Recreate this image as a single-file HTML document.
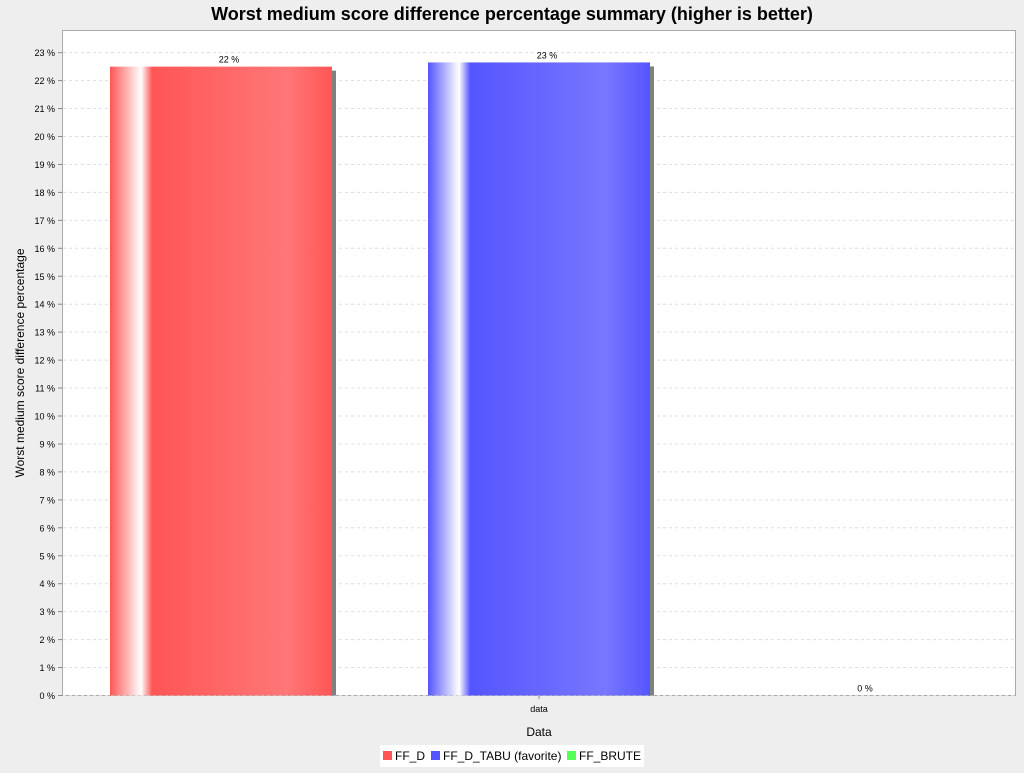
<!DOCTYPE html>
<html><head><meta charset="utf-8"><style>
body{margin:0;background:#eeeeee;font-family:"Liberation Sans",sans-serif}
</style></head><body>
<svg id="chart" width="1024" height="768" xmlns="http://www.w3.org/2000/svg" font-family="Liberation Sans, sans-serif">
<defs>
<linearGradient id="gr" x1="0" x2="1" y1="0" y2="0">
<stop offset="0" stop-color="#ff5555"/><stop offset="0.14" stop-color="#ffffff"/><stop offset="0.19" stop-color="#ff5555"/><stop offset="0.8" stop-color="#ff7777"/><stop offset="1" stop-color="#ff5555"/>
</linearGradient>
<linearGradient id="gb" x1="0" x2="1" y1="0" y2="0">
<stop offset="0" stop-color="#5555ff"/><stop offset="0.14" stop-color="#ffffff"/><stop offset="0.19" stop-color="#5555ff"/><stop offset="0.8" stop-color="#7777ff"/><stop offset="1" stop-color="#5555ff"/>
</linearGradient>
<linearGradient id="gg" x1="0" x2="1" y1="0" y2="0">
<stop offset="0" stop-color="#55ff55"/><stop offset="0.14" stop-color="#ffffff"/><stop offset="0.19" stop-color="#55ff55"/><stop offset="1" stop-color="#55ff55"/>
</linearGradient>
</defs>
<text x="512" y="20" text-anchor="middle" font-size="18" font-weight="bold">Worst medium score difference percentage summary (higher is better)</text>
<rect x="62.5" y="30.5" width="953" height="665" fill="#fff" stroke="#aaa"/>
<g id="grid"></g><g id="bars"></g>
<text x="539" y="712" text-anchor="middle" font-size="9">data</text>
<line x1="539" x2="539" y1="696" y2="699" stroke="#888"/>
<text x="539" y="736" text-anchor="middle" font-size="12">Data</text>
<text transform="translate(24,363) rotate(-90)" text-anchor="middle" font-size="12">Worst medium score difference percentage</text>
<g>
<rect x="380" y="745" width="264" height="22" fill="#fff"/>
<rect x="383" y="751" width="9" height="9" fill="#ff5555"/>
<text x="395" y="760" font-size="12">FF_D</text>
<rect x="431" y="751" width="9" height="9" fill="#5555ff"/>
<text x="443" y="760" font-size="12">FF_D_TABU (favorite)</text>
<rect x="567" y="751" width="9" height="9" fill="#55ff55"/>
<text x="579" y="760" font-size="12">FF_BRUTE</text>
</g>
</svg>
<script>
const categories=["FF_D","FF_D_TABU (favorite)","FF_BRUTE"];
const values=[22.5,22.65,0];
const labels=["22 %","23 %","0 %"];
const yTicks=[0,1,2,3,4,5,6,7,8,9,10,11,12,13,14,15,16,17,18,19,20,21,22,23];
const NS="http://www.w3.org/2000/svg";
const y0=695.5,pxPer=27.95;
function y(v){return y0-v*pxPer;}
const grads=["url(#gr)","url(#gb)","url(#gg)"];
const g=document.getElementById('grid');
yTicks.forEach(t=>{
  const l=document.createElementNS(NS,'line');
  
  
  l.setAttribute('x1',63);l.setAttribute('x2',1015);l.setAttribute('y1',y(t));l.setAttribute('y2',y(t));
  l.setAttribute('stroke','#ddd');l.setAttribute('stroke-dasharray','3,3');
  g.appendChild(l);
  const tk=document.createElementNS(NS,'line');
  
  
  tk.setAttribute('x1',58);tk.setAttribute('x2',62);tk.setAttribute('y1',y(t));tk.setAttribute('y2',y(t));tk.setAttribute('stroke','#888');
  g.appendChild(tk);
  const tx=document.createElementNS(NS,'text');
  
  
  tx.setAttribute('x',55);tx.setAttribute('y',y(t)+3.5);tx.setAttribute('text-anchor','end');tx.setAttribute('font-size','9');
  tx.textContent=t+" %";g.appendChild(tx);
});
const b=document.getElementById('bars');
const bx0=110,bstep=318,bw=222;
values.forEach((v,i)=>{
  const x=bx0+i*bstep,top=y(v),h=y0-top;
  if(h>0){
    const s=document.createElementNS(NS,'rect');
    
    
    s.setAttribute('x',x+4);s.setAttribute('y',top+4);s.setAttribute('width',bw);s.setAttribute('height',Math.max(0,h-4));s.setAttribute('fill','#808080');
    b.appendChild(s);
  }
  const r=document.createElementNS(NS,'rect');
  
  
  r.setAttribute('x',x);r.setAttribute('y',top);r.setAttribute('width',bw);r.setAttribute('height',h);r.setAttribute('fill',grads[i]);
  b.appendChild(r);
  const t=document.createElementNS(NS,'text');
  
  
  t.setAttribute('x',x+bw/2+8);t.setAttribute('y',top-4);t.setAttribute('text-anchor','middle');t.setAttribute('font-size','9');
  t.textContent=labels[i];b.appendChild(t);
});
</script>
</body></html>
